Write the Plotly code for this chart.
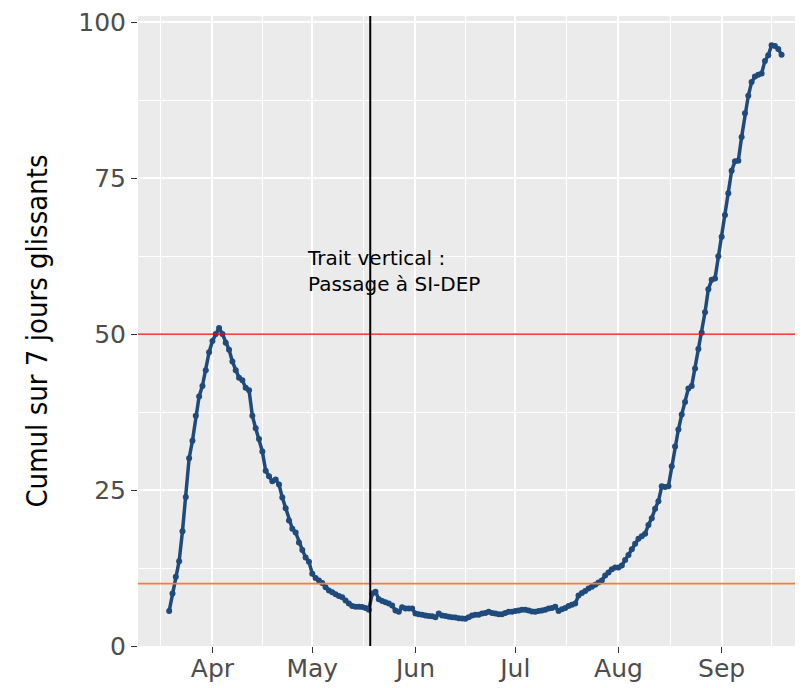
import pandas as pd
import plotly.graph_objects as go

# ---- data (cumul sur 7 jours glissants), one value per day ----
start_date = "2020-03-19"
mar = [5.6, 8.4, 11.1, 13.6, 18.4, 23.9, 30.1, 32.9, 36.9, 40.0, 41.7, 44.2, 47.1]
apr = [48.9, 50.0, 51.0, 50.0, 48.6, 47.5, 45.6, 44.2, 43.0, 42.6,
       41.4, 41.0, 36.9, 34.9, 33.2, 31.2, 28.1, 27.2, 26.4, 26.7,
       25.9, 23.8, 22.1, 20.1, 18.8, 18.2, 16.6, 15.4, 14.2, 13.5]
may = [11.6, 10.9, 10.5, 10.1, 9.4, 8.9, 8.6, 8.3, 8.0, 7.8,
       7.3, 6.8, 6.4, 6.3, 6.3, 6.25, 6.1, 5.8, 8.4, 8.7,
       7.5, 7.2, 7.0, 6.8, 6.5, 5.7, 5.5, 6.2, 6.0, 6.0, 6.0]
jun = [5.2, 5.1, 5.0, 4.9, 4.8, 4.75, 4.6, 5.2, 4.9, 4.8,
       4.7, 4.6, 4.55, 4.45, 4.4, 4.35, 4.6, 4.9, 5.0, 5.0,
       5.2, 5.3, 5.5, 5.3, 5.2, 5.1, 5.1, 5.3, 5.5, 5.5]
jul = [5.6, 5.7, 5.8, 5.8, 5.7, 5.55, 5.5, 5.6, 5.7, 5.8,
       6.0, 6.1, 6.3, 5.6, 5.9, 6.1, 6.4, 6.6, 6.8, 8.1,
       8.5, 8.8, 9.2, 9.5, 9.8, 10.2, 10.5, 11.3, 11.8, 12.3, 12.6]
aug = [12.6, 12.9, 13.8, 14.6, 15.5, 16.4, 17.2, 17.6, 18.0, 19.4,
       20.5, 22.0, 23.2, 25.6, 25.5, 25.6, 28.8, 32.0, 34.7, 37.1,
       39.1, 41.3, 41.7, 44.5, 47.6, 50.2, 53.5, 57.2, 58.7, 58.9, 62.5]
sep = [65.6, 69.1, 72.6, 76.2, 77.7, 77.8, 81.6, 85.4, 88.2, 90.4,
       91.3, 91.6, 91.8, 93.8, 94.7, 96.3, 96.2, 95.7, 94.8]

values = mar + apr + may + jun + jul + aug + sep
dates = pd.date_range(start_date, periods=len(values), freq="D")

month_ticks = ["2020-04-01", "2020-05-01", "2020-06-01", "2020-07-01", "2020-08-01", "2020-09-01"]
month_labels = ["Apr", "May", "Jun", "Jul", "Aug", "Sep"]
y_ticks = [0, 25, 50, 75, 100]
threshold_high = 50
threshold_low = 10
sidep_date = "2020-05-18 10:00"
annot_text = "Trait vertical :<br>Passage à SI-DEP"

# minor grid: midpoints between month starts (ggplot style)
month_starts = pd.to_datetime(["2020-03-01"] + month_ticks + ["2020-10-01"])
x_minor = [a + (b - a) / 2 for a, b in zip(month_starts[:-1], month_starts[1:])]
y_minor = [12.5, 37.5, 62.5, 87.5]

fig = go.Figure()
fig.add_trace(go.Scatter(
    x=dates, y=values, mode="lines+markers",
    line=dict(color="#1F4A7C", width=3.5),
    marker=dict(color="#1F4A7C", size=6),
    showlegend=False, hoverinfo="x+y",
))

fig.add_hline(y=threshold_high, line=dict(color="#FF0000", width=1.2))
fig.add_hline(y=threshold_low, line=dict(color="#F57E36", width=1.6))
fig.add_vline(x=pd.Timestamp(sidep_date), line=dict(color="black", width=2))

fig.add_annotation(
    x=pd.Timestamp("2020-04-28 18:00"), y=60.1, xref="x", yref="y",
    text=annot_text, showarrow=False, align="left",
    xanchor="left", yanchor="middle",
    font=dict(family="DejaVu Sans", size=20, color="black"),
)

fig.update_layout(
    width=795, height=680,
    margin=dict(l=130, r=0, t=3, b=42),
    paper_bgcolor="white",
    plot_bgcolor="#EBEBEB",
    font=dict(family="DejaVu Sans", color="#4D4D4D"),
    xaxis=dict(
        range=["2020-03-09 15:20", "2020-09-25 10:30"],
        tickvals=month_ticks, ticktext=month_labels,
        tickfont=dict(family="DejaVu Sans", size=25, color="#4D4D4D"),
        ticks="outside", ticklen=6, tickcolor="#333333", tickwidth=1.2,
        ticklabelstandoff=-6,
        showgrid=True, gridcolor="white", gridwidth=1.6,
        minor=dict(tickvals=x_minor, showgrid=True, gridcolor="white", gridwidth=0.8, ticks=""),
        zeroline=False, showline=False,
    ),
    yaxis=dict(
        range=[0, 101],
        tickvals=y_ticks,
        tickfont=dict(family="DejaVu Sans", size=25, color="#4D4D4D"),
        ticks="outside", ticklen=6, tickcolor="#333333", tickwidth=1.2,
        ticklabeloverflow="allow",
        showgrid=True, gridcolor="white", gridwidth=1.6,
        minor=dict(tickvals=y_minor, showgrid=True, gridcolor="white", gridwidth=0.8, ticks=""),
        zeroline=False, showline=False,
        title=dict(text="Cumul sur 7 jours glissants",
                   font=dict(family="Liberation Sans Narrow, DejaVu Sans Condensed, DejaVu Sans, sans-serif",
                             size=29, color="black"),
                   standoff=22),
    ),
)

fig.write_html("out.html")
